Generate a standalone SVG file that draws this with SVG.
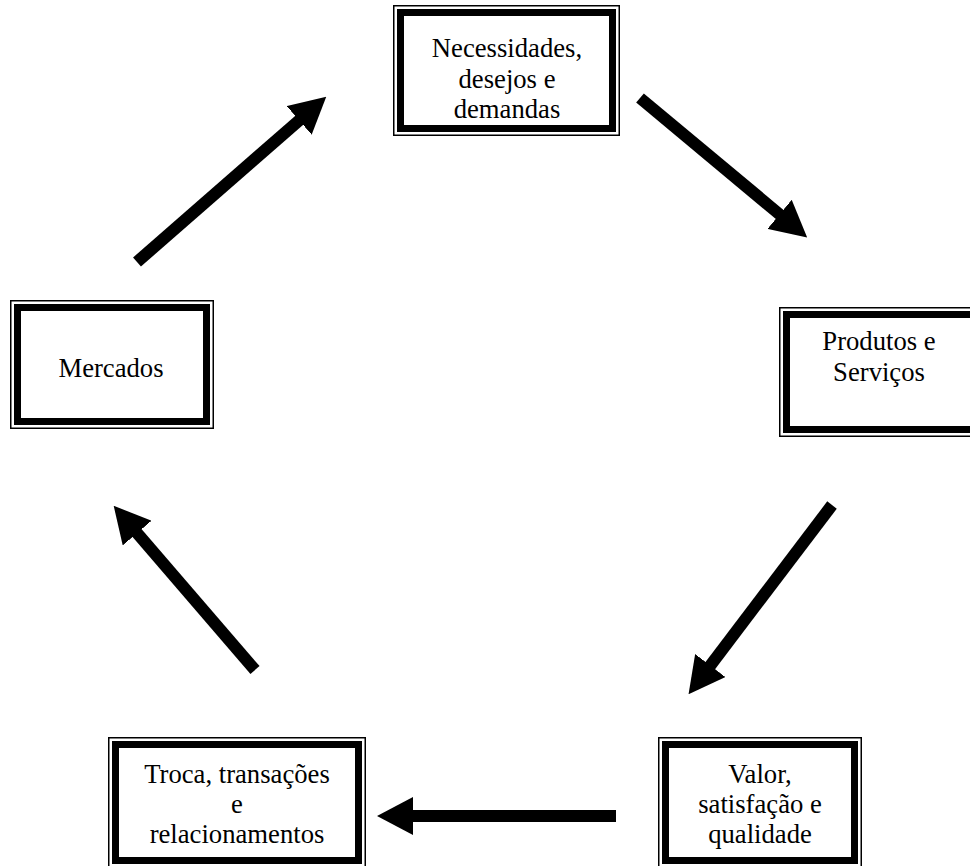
<svg xmlns="http://www.w3.org/2000/svg" width="970" height="866" viewBox="0 0 970 866">
  <style>
    .outer { fill: #ffffff; stroke: #000000; stroke-width: 1.5; }
    .inner { fill: none; stroke: #000000; stroke-width: 7; }
    .label { font-family: "Liberation Serif", "Times New Roman", serif; font-size: 26.67px; fill: #000000; text-anchor: middle; }
    .shaft { stroke: #000000; stroke-width: 12; fill: none; marker-end: url(#head); }
  </style>
  <defs>
    <marker id="head" markerUnits="userSpaceOnUse" viewBox="0 0 36 38" refX="1" refY="19" markerWidth="36" markerHeight="38" orient="auto">
      <path d="M0,0 L36,19 L0,38 Z" fill="#000000"/>
    </marker>
  </defs>
  <rect width="970" height="866" fill="#ffffff"/>

  <!-- cycle nodes: thin outer rule, white gap, thick inner rule -->
  <g id="necessidades">
    <rect class="outer" x="393.75" y="5.75" width="225.5" height="129.5"/>
    <rect class="inner" x="400.5" y="12.5" width="212" height="116"/>
    <text class="label" x="507" y="57">Necessidades,</text>
    <text class="label" x="507" y="88">desejos e</text>
    <text class="label" x="507" y="118">demandas</text>
  </g>

  <g id="produtos">
    <rect class="outer" x="779.75" y="307.75" width="200" height="128.5"/>
    <rect class="inner" x="786.5" y="314.5" width="200" height="115"/>
    <text class="label" x="879" y="350">Produtos e</text>
    <text class="label" x="879" y="381">Serviços</text>
  </g>

  <g id="valor">
    <rect class="outer" x="658.75" y="737.75" width="202.5" height="140"/>
    <rect class="inner" x="665.5" y="744.5" width="189" height="116"/>
    <text class="label" x="760" y="783">Valor,</text>
    <text class="label" x="760" y="813">satisfação e</text>
    <text class="label" x="760" y="843">qualidade</text>
  </g>

  <g id="troca">
    <rect class="outer" x="108.75" y="737.75" width="256.5" height="140"/>
    <rect class="inner" x="115.5" y="744.5" width="243" height="116"/>
    <text class="label" x="237" y="783">Troca, transações</text>
    <text class="label" x="237" y="813">e</text>
    <text class="label" x="237" y="843">relacionamentos</text>
  </g>

  <g id="mercados">
    <rect class="outer" x="10.75" y="300.75" width="202.5" height="127.5"/>
    <rect class="inner" x="17.5" y="307.5" width="189" height="114"/>
    <text class="label" x="111" y="377">Mercados</text>
  </g>

  <!-- connectors: thick shafts with solid triangular heads -->
  <g id="connectors">
    <line class="shaft" x1="137" y1="262" x2="299.9" y2="119.7"/>
    <line class="shaft" x1="640" y1="98" x2="780.3" y2="215"/>
    <line class="shaft" x1="832" y1="505" x2="709.7" y2="666.3"/>
    <line class="shaft" x1="616" y1="816" x2="412" y2="816"/>
    <line class="shaft" x1="255" y1="670" x2="136.5" y2="532.3"/>
  </g>
</svg>
